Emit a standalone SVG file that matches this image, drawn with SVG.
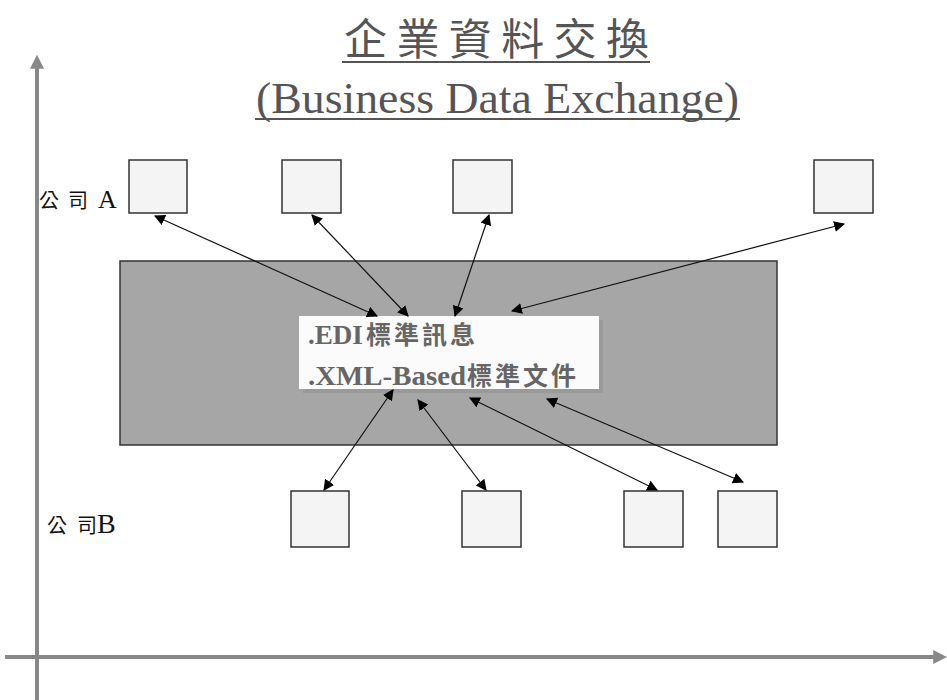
<svg xmlns="http://www.w3.org/2000/svg" width="947" height="700" viewBox="0 0 947 700">
<defs>
<style>
.title{font-family:"Liberation Serif","Noto Sans CJK TC",serif;fill:#555;}
.lbl{font-family:"Liberation Serif","Noto Sans CJK TC",serif;fill:#111;}
.cjk{font-family:"Noto Sans CJK TC",sans-serif;}
.msg{font-family:"Liberation Serif","Noto Sans CJK TC",serif;fill:#666;font-weight:bold;}
.box{fill:#f4f4f4;stroke:#333;stroke-width:1.5;}
.conn{stroke:#111;stroke-width:1.2;fill:none;marker-start:url(#ah);marker-end:url(#ah);}
.axis{stroke:#888;stroke-width:4;fill:none;}
</style>
<marker id="ah" viewBox="0 0 10 10" refX="9" refY="5" markerWidth="11" markerHeight="11" markerUnits="userSpaceOnUse" orient="auto-start-reverse">
<path d="M0,0 L10,5 L0,10 z" fill="#000"/>
</marker>
<marker id="ax" viewBox="0 0 10 10" refX="2" refY="5" markerWidth="3.5" markerHeight="4" orient="auto">
<path d="M0,0 L10,5 L0,10 z" fill="#888"/>
</marker>
</defs>
<rect width="947" height="700" fill="#fff"/>
<g id="axes">
<line class="axis" x1="37" y1="700" x2="37" y2="66" marker-end="url(#ax)"/>
<line class="axis" x1="5" y1="657" x2="936" y2="657" marker-end="url(#ax)"/>
</g>
<g id="title">
<text class="title" x="344" y="55" font-size="43" textLength="305" lengthAdjust="spacing">企業資料交換</text>
<line x1="342" y1="62" x2="650" y2="62" stroke="#555" stroke-width="2"/>
<text class="title" x="256" y="113" font-size="44" textLength="483" lengthAdjust="spacingAndGlyphs">(Business Data Exchange)</text>
<line x1="255" y1="119" x2="740" y2="119" stroke="#555" stroke-width="2"/>
</g>
<g id="labelA"><text class="lbl" y="208"><tspan class="cjk" x="39" font-size="20">公</tspan><tspan class="cjk" x="68" font-size="20">司</tspan><tspan x="98" font-size="26">A</tspan></text></g>
<g id="labelB"><text class="lbl" y="533"><tspan class="cjk" x="47" font-size="20">公</tspan><tspan class="cjk" x="77" font-size="20">司</tspan><tspan x="97" font-size="28">B</tspan></text></g>
<g id="center">
<rect x="120" y="261" width="657" height="184" fill="#a6a6a6" stroke="#333" stroke-width="1.5"/>
<rect x="303" y="320" width="300" height="73" fill="#9a9a9a"/>
<rect x="299" y="316" width="300" height="73" fill="#fbfbfb"/>
<text class="msg" y="344"><tspan x="308" font-size="27">.EDI</tspan><tspan x="366" font-size="25" letter-spacing="3">標準訊息</tspan></text>
<text class="msg" y="385"><tspan x="308" font-size="27" textLength="158" lengthAdjust="spacingAndGlyphs">.XML-Based</tspan><tspan x="467" font-size="25" letter-spacing="3">標準文件</tspan></text>
</g>
<g id="a1"><rect class="box" x="129" y="160" width="58" height="53"/></g>
<g id="a2"><rect class="box" x="282" y="160" width="59" height="53"/></g>
<g id="a3"><rect class="box" x="453" y="160" width="59" height="53"/></g>
<g id="a4"><rect class="box" x="814" y="160" width="59" height="53"/></g>
<g id="b1"><rect class="box" x="291" y="491" width="58" height="56"/></g>
<g id="b2"><rect class="box" x="462" y="491" width="59" height="56"/></g>
<g id="b3"><rect class="box" x="624" y="491" width="59" height="56"/></g>
<g id="b4"><rect class="box" x="718" y="491" width="59" height="56"/></g>
<g id="connectors">
<line class="conn" x1="155" y1="216" x2="377" y2="316"/>
<line class="conn" x1="312" y1="215" x2="408" y2="316"/>
<line class="conn" x1="489" y1="215" x2="455" y2="316"/>
<line class="conn" x1="844" y1="224" x2="512" y2="311"/>
<line class="conn" x1="393" y1="390" x2="324" y2="490"/>
<line class="conn" x1="418" y1="400" x2="486" y2="490"/>
<line class="conn" x1="470" y1="398" x2="657" y2="490"/>
<line class="conn" x1="547" y1="399" x2="743" y2="482"/>
</g>
</svg>
